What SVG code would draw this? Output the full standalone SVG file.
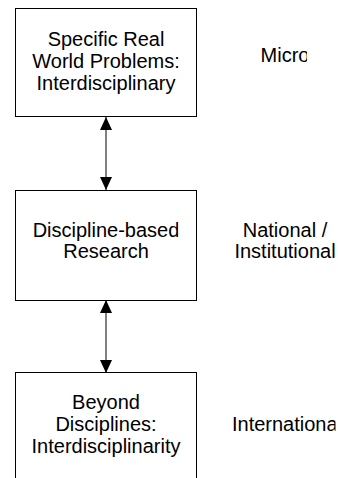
<svg xmlns="http://www.w3.org/2000/svg" width="338" height="478" viewBox="0 0 338 478">
  <style>
    .box { fill: #ffffff; stroke: #000000; stroke-width: 1; }
    .t { font-family: "Liberation Sans", Arial, sans-serif; font-size: 20px; fill: #000000; text-anchor: middle; }
    .conn { stroke: #000000; stroke-width: 1; fill: none; }
  </style>
  <defs>
    <marker id="ah" viewBox="0 0 13 12" refX="13" refY="6" markerWidth="13" markerHeight="12" markerUnits="userSpaceOnUse" orient="auto-start-reverse">
      <path d="M0,0 L13,6 L0,12 Z" fill="#000000"/>
    </marker>
    <clipPath id="cIn"><rect x="30" y="0" width="148.5" height="478"/></clipPath>
    <clipPath id="cMicro"><rect x="230" y="30" width="77" height="40"/></clipPath>
    <clipPath id="cRight"><rect x="230" y="200" width="107" height="278"/></clipPath>
    <clipPath id="cIntl"><rect x="230" y="400" width="105.5" height="40"/></clipPath>
  </defs>
  <rect width="338" height="478" fill="#ffffff"/>

  <g id="connectors">
    <line class="conn" x1="106" y1="117" x2="106" y2="190" marker-start="url(#ah)" marker-end="url(#ah)"/>
    <line class="conn" x1="106" y1="300" x2="106" y2="373" marker-start="url(#ah)" marker-end="url(#ah)"/>
  </g>

  <g id="node-real-world">
    <rect class="box" x="15.5" y="8.5" width="181" height="108"/>
    <text class="t" x="106" y="46">Specific Real</text>
    <text class="t" x="106" y="67.5" clip-path="url(#cIn)">World Problems:</text>
    <text class="t" x="106" y="90">Interdisciplinary</text>
  </g>

  <g id="node-discipline">
    <rect class="box" x="15.5" y="190.5" width="181" height="110"/>
    <text class="t" x="106" y="237" clip-path="url(#cIn)">Discipline-based</text>
    <text class="t" x="106" y="257.5">Research</text>
  </g>

  <g id="node-beyond">
    <rect class="box" x="15.5" y="372.5" width="181" height="120"/>
    <text class="t" x="106" y="409">Beyond</text>
    <text class="t" x="106" y="431">Disciplines:</text>
    <text class="t" x="106" y="453">Interdisciplinarity</text>
  </g>

  <g id="label-micro" clip-path="url(#cMicro)">
    <text class="t" x="285" y="61.5">Micro</text>
  </g>
  <g id="label-national" clip-path="url(#cRight)">
    <text class="t" x="285" y="237">National /</text>
    <text class="t" x="285" y="257.5">Institutional</text>
  </g>
  <g id="label-international" clip-path="url(#cIntl)">
    <text class="t" x="287" y="431">International</text>
  </g>
</svg>
